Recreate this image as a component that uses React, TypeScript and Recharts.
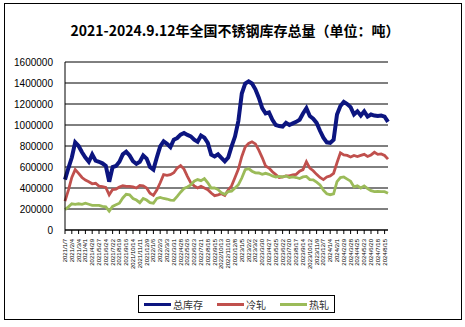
import { LineChart, Line, XAxis, YAxis, CartesianGrid } from 'recharts'

// biweekly sample dates
const dates = [
  '2021/1/7', '2021/1/21', '2021/2/4', '2021/2/18', '2021/3/4', '2021/3/18', '2021/4/1', '2021/4/15',
  '2021/4/29', '2021/5/13', '2021/5/27', '2021/6/10', '2021/6/24', '2021/7/8', '2021/7/22', '2021/8/5',
  '2021/8/19', '2021/9/2', '2021/9/16', '2021/9/30', '2021/10/14', '2021/10/28', '2021/11/11', '2021/11/25',
  '2021/12/9', '2021/12/23', '2022/1/6', '2022/1/20', '2022/2/3', '2022/2/17', '2022/3/3', '2022/3/17',
  '2022/3/31', '2022/4/14', '2022/4/28', '2022/5/12', '2022/5/26', '2022/6/9', '2022/6/23', '2022/7/7',
  '2022/7/21', '2022/8/4', '2022/8/18', '2022/9/1', '2022/9/15', '2022/9/29', '2022/10/13', '2022/10/27',
  '2022/11/10', '2022/11/24', '2022/12/8', '2022/12/22', '2023/1/5', '2023/1/19', '2023/2/2', '2023/2/16',
  '2023/3/2', '2023/3/16', '2023/3/30', '2023/4/13', '2023/4/27', '2023/5/11', '2023/5/25', '2023/6/8',
  '2023/6/22', '2023/7/6', '2023/7/20', '2023/8/3', '2023/8/17', '2023/8/31', '2023/9/14', '2023/9/28',
  '2023/10/12', '2023/10/26', '2023/11/9', '2023/11/23', '2023/12/7', '2023/12/21', '2024/1/4', '2024/1/18',
  '2024/2/1', '2024/2/15', '2024/2/29', '2024/3/14', '2024/3/28', '2024/4/11', '2024/4/25', '2024/5/9',
  '2024/5/23', '2024/6/6', '2024/6/20', '2024/7/4', '2024/7/18', '2024/8/1', '2024/8/15', '2024/9/12',
]

// 总库存 (thousand tons)
const total = [
  480, 590, 690, 835, 800, 740, 690, 650, 720, 660, 650, 635, 610, 460, 600, 610, 650, 720, 745, 710, 655, 630, 650, 710,
  680, 600, 575, 690, 797, 844, 820, 790, 860, 876, 908, 924, 905, 892, 860, 840, 900, 880, 830, 717, 700, 720, 686, 654,
  690, 797, 890, 1040, 1300, 1395, 1415, 1395, 1340, 1260, 1160, 1110, 1120, 1050, 1000, 990, 985, 1020, 1000, 1015, 1030, 1050, 1110, 1160,
  1085, 1060, 1020, 945, 880, 835, 830, 860, 1100, 1180, 1220, 1200, 1170, 1100, 1130, 1090, 1130, 1080, 1100, 1090, 1085, 1090, 1080, 1030,
]

// 冷轧
const coldRolled = [
  275, 380, 500, 575, 540, 500, 475, 460, 440, 445, 418, 412, 405, 335, 385, 390, 410, 422, 415, 415, 410, 400, 425, 420,
  400, 350, 330, 380, 450, 527, 520, 527, 545, 590, 613, 580, 511, 448, 420, 400, 416, 400, 384, 352, 327, 335, 345, 330,
  380, 420, 500, 580, 700, 790, 825, 840, 820, 760, 690, 610, 590, 555, 527, 500, 505, 515, 515, 525, 530, 560, 575, 650,
  590, 565, 530, 500, 480, 505, 515, 540, 640, 735, 715, 710, 695, 710, 700, 710, 720, 700, 715, 740, 720, 725, 710, 675,
]

// 热轧
const hotRolled = [
  195, 220, 250, 245, 250, 245, 255, 245, 235, 235, 235, 225, 220, 180, 225, 240, 255, 305, 340, 335, 300, 285, 260, 300,
  285, 260, 255, 300, 310, 300, 295, 285, 283, 320, 360, 395, 410, 430, 465, 480, 470, 490, 450, 400, 400, 385, 355, 340,
  365, 370, 400, 432, 495, 575, 585, 560, 545, 543, 530, 540, 530, 515, 505, 510, 505, 515, 500, 505, 500, 490, 505, 510,
  480, 478, 455, 430, 380, 345, 336, 345, 460, 500, 505, 485, 465, 410, 420, 400, 420, 395, 375, 365, 368, 365, 365, 350,
]

const yTicks = [0, 200000, 400000, 600000, 800000, 1000000, 1200000, 1400000, 1600000]

const seriesInfo = [
  { key: 'total', name: '总库存', color: '#0c1580', width: 4 },
  { key: 'cold', name: '冷轧', color: '#c0504d', width: 2.8 },
  { key: 'hot', name: '热轧', color: '#9bbb59', width: 2.8 },
]

const chartData = dates.map((d, i) => ({
  date: d,
  total: total[i] * 1000,
  cold: coldRolled[i] * 1000,
  hot: hotRolled[i] * 1000,
}))

const DateTick = ({ x, y, payload }: any) => (
  <text
    x={x}
    y={y + 3}
    transform={`rotate(-90 ${x} ${y + 3})`}
    textAnchor="end"
    dominantBaseline="central"
    fontSize={6}
    fill="#000"
    fontFamily="'Liberation Sans', Arial, sans-serif"
  >
    {payload.value}
  </text>
)

export default function App() {
  return (
    <div style={{ position: 'absolute', left: 0, top: 0, width: 465, height: 327, background: '#fff' }}>
      <div style={{ position: 'absolute', left: 4, top: 3, width: 456, height: 315, border: '1px solid #000' }} />
      <div
        style={{
          position: 'absolute', left: 0, top: 20, width: 470, textAlign: 'center',
          fontFamily: "'Noto Sans CJK SC', sans-serif", fontSize: 14, fontWeight: 'bold', color: '#000',
        }}
      >
        2021-2024.9.12年全国不锈钢库存总量（单位：吨）
      </div>
      <div style={{ position: 'absolute', left: 0, top: 0 }}>
        <LineChart width={465} height={327} data={chartData} margin={{ top: 62, right: 77, bottom: 37, left: 0 }}>
          <CartesianGrid vertical={false} stroke="#000" strokeWidth={1} />
          <XAxis
            dataKey="date"
            interval={1}
            height={60}
            tick={<DateTick />}
            tickSize={4}
            axisLine={{ stroke: '#000' }}
            tickLine={{ stroke: '#000' }}
          />
          <YAxis
            width={65}
            domain={[0, 1600000]}
            ticks={yTicks}
            interval={0}
            tickLine={false}
            axisLine={{ stroke: '#000' }}
            tick={{ fontSize: 10, fill: '#000', fontFamily: "'Liberation Sans', Arial, sans-serif" }}
            tickMargin={6}
          />
          {seriesInfo.map(s => (
            <Line
              key={s.key}
              dataKey={s.key}
              name={s.name}
              stroke={s.color}
              strokeWidth={s.width}
              dot={false}
              type="linear"
              isAnimationActive={false}
            />
          ))}
        </LineChart>
      </div>
      <div
        style={{
          position: 'absolute', left: 138, top: 295, width: 197, height: 18, border: '1px solid #000',
          display: 'flex', alignItems: 'center', justifyContent: 'center', gap: 14,
          fontFamily: "'Noto Sans CJK SC', sans-serif", fontSize: 10, color: '#333', boxSizing: 'border-box',
        }}
      >
        {seriesInfo.map(s => (
          <div key={s.key} style={{ display: 'flex', alignItems: 'center' }}>
            <span style={{ display: 'inline-block', width: 27, height: 3, background: s.color, marginRight: 2 }} />
            <span>{s.name}</span>
          </div>
        ))}
      </div>
    </div>
  )
}
